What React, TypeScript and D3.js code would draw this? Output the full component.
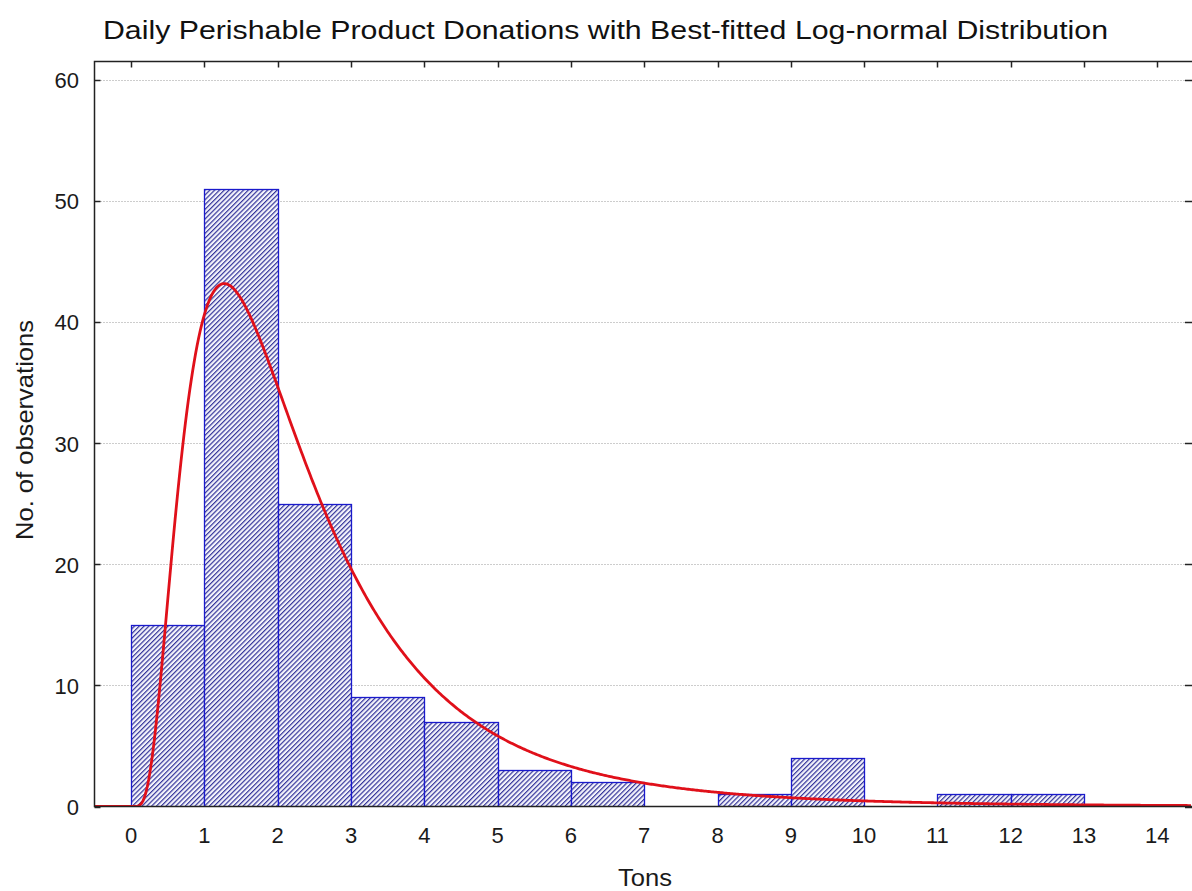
import React, { useEffect, useRef } from "react";
import * as d3 from "d3";

// Histogram bins (lower edge, tons) and observed counts per 1-ton bin
const binStarts = [0, 1, 2, 3, 4, 5, 6, 7, 8, 9, 10, 11, 12, 13];
const binCounts = [15, 51, 25, 9, 7, 3, 2, 0, 1, 4, 0, 1, 1, 0];
const binWidth = 1;

// Fitted log-normal parameters (log scale)
const lnMu = 0.708;
const lnSigma = 0.685;

const xTicks = [0, 1, 2, 3, 4, 5, 6, 7, 8, 9, 10, 11, 12, 13, 14];
const yTicks = [0, 10, 20, 30, 40, 50, 60];

const W = 1192;
const H = 891;
const FONT = "'Liberation Sans', Arial, sans-serif";

export default function App() {
  const ref = useRef<SVGSVGElement>(null);

  useEffect(() => {
    const svg = d3.select(ref.current);
    svg.selectAll("*").remove();

    const left = 94.5;
    const right = 1191;
    const top = 61.5;
    const bottom = 806.5;

    const x = d3.scaleLinear().domain([-0.5, 14.46]).range([left, right]);
    const y = d3.scaleLinear().domain([0, 61.5]).range([bottom, top]);

    const defs = svg.append("defs");
    const hs = 3.4;
    const pat = defs
      .append("pattern")
      .attr("id", "hatch")
      .attr("patternUnits", "userSpaceOnUse")
      .attr("width", hs)
      .attr("height", hs)
      .attr("patternTransform", "rotate(45)");
    pat.append("rect").attr("width", hs).attr("height", hs).attr("fill", "#f4f4fb");
    pat
      .append("line")
      .attr("x1", 0.6)
      .attr("y1", 0)
      .attr("x2", 0.6)
      .attr("y2", hs)
      .attr("stroke", "#34349a")
      .attr("stroke-width", 1.2);

    defs
      .append("clipPath")
      .attr("id", "plotClip")
      .append("rect")
      .attr("x", left)
      .attr("y", top)
      .attr("width", right - left)
      .attr("height", bottom - top);

    // Title
    svg
      .append("text")
      .attr("x", 103)
      .attr("y", 39)
      .attr("font-family", FONT)
      .attr("font-size", 26)
      .attr("textLength", 1005)
      .attr("lengthAdjust", "spacingAndGlyphs")
      .attr("fill", "#111")
      .text("Daily Perishable Product Donations with Best-fitted Log-normal Distribution");

    // Horizontal dotted grid
    svg
      .append("g")
      .selectAll("line")
      .data(yTicks.filter((v) => v > 0))
      .join("line")
      .attr("x1", left)
      .attr("x2", right)
      .attr("y1", (d) => Math.round(y(d)) + 0.5)
      .attr("y2", (d) => Math.round(y(d)) + 0.5)
      .attr("stroke", "#9a9a9a")
      .attr("stroke-width", 1)
      .attr("stroke-dasharray", "1,2");

    // Bars
    const plot = svg.append("g").attr("clip-path", "url(#plotClip)");
    const bins = binStarts.map((s, i) => ({ s, c: binCounts[i] })).filter((b) => b.c > 0);
    plot
      .selectAll("rect.bar")
      .data(bins)
      .join("rect")
      .attr("class", "bar")
      .attr("x", (d) => Math.round(x(d.s)) + 0.5)
      .attr("y", (d) => Math.round(y(d.c)) + 0.5)
      .attr("width", (d) => Math.round(x(d.s + binWidth)) - Math.round(x(d.s)))
      .attr("height", (d) => Math.round(y(0)) - Math.round(y(d.c)))
      .attr("fill", "url(#hatch)")
      .attr("stroke", "#1a1acc")
      .attr("stroke-width", 1.3);

    // Fitted log-normal curve scaled to expected counts per bin
    const total = d3.sum(binCounts);
    const pdf = (t: number) =>
      t <= 0
        ? 0
        : Math.exp(-((Math.log(t) - lnMu) ** 2) / (2 * lnSigma * lnSigma)) /
          (t * lnSigma * Math.sqrt(2 * Math.PI));
    const curveX = d3.range(-0.5, 14.6, 0.02);
    const line = d3
      .line<number>()
      .x((t) => x(t))
      .y((t) => y(total * binWidth * pdf(t)))
      .curve(d3.curveLinear);
    plot
      .append("path")
      .datum(curveX)
      .attr("d", line)
      .attr("fill", "none")
      .attr("stroke", "#e0101a")
      .attr("stroke-width", 2.8)
      .attr("stroke-linejoin", "round");

    // Frame
    svg
      .append("rect")
      .attr("x", left)
      .attr("y", top)
      .attr("width", right - left + 2)
      .attr("height", bottom - top)
      .attr("fill", "none")
      .attr("stroke", "#222")
      .attr("stroke-width", 1.5);

    // Inward ticks: top for x, left and right for y
    const tl = 6;
    const ticks = svg.append("g").attr("stroke", "#222").attr("stroke-width", 1.5);
    xTicks.forEach((t) => {
      const px = Math.round(x(t)) + 0.5;
      ticks.append("line").attr("x1", px).attr("x2", px).attr("y1", top).attr("y2", top + tl);
    });
    yTicks.forEach((v) => {
      const py = Math.round(y(v)) + 0.5;
      ticks.append("line").attr("x1", left).attr("x2", left + tl).attr("y1", py).attr("y2", py);
      ticks.append("line").attr("x1", right - tl).attr("x2", right + 2).attr("y1", py).attr("y2", py);
    });

    // Tick labels
    svg
      .append("g")
      .selectAll("text")
      .data(xTicks)
      .join("text")
      .attr("x", (d) => x(d))
      .attr("y", 843)
      .attr("text-anchor", "middle")
      .attr("font-family", FONT)
      .attr("font-size", 22)
      .attr("fill", "#1a1a1a")
      .text((d) => String(d));

    svg
      .append("g")
      .selectAll("text")
      .data(yTicks)
      .join("text")
      .attr("x", 79)
      .attr("y", (d) => y(d) + 8.5)
      .attr("text-anchor", "end")
      .attr("font-family", FONT)
      .attr("font-size", 22)
      .attr("fill", "#1a1a1a")
      .text((d) => String(d));

    // Axis titles
    svg
      .append("text")
      .attr("x", 618)
      .attr("y", 886)
      .attr("font-family", FONT)
      .attr("font-size", 24)
      .attr("textLength", 54)
      .attr("lengthAdjust", "spacingAndGlyphs")
      .attr("fill", "#1a1a1a")
      .text("Tons");

    svg
      .append("text")
      .attr("transform", `translate(33, 540) rotate(-90)`)
      .attr("font-family", FONT)
      .attr("font-size", 24)
      .attr("textLength", 220)
      .attr("lengthAdjust", "spacingAndGlyphs")
      .attr("fill", "#1a1a1a")
      .text("No. of observations");
  }, []);

  return (
    <svg
      ref={ref}
      width={W}
      height={H}
      style={{ position: "absolute", left: 0, top: 0, background: "#fff" }}
    />
  );
}
